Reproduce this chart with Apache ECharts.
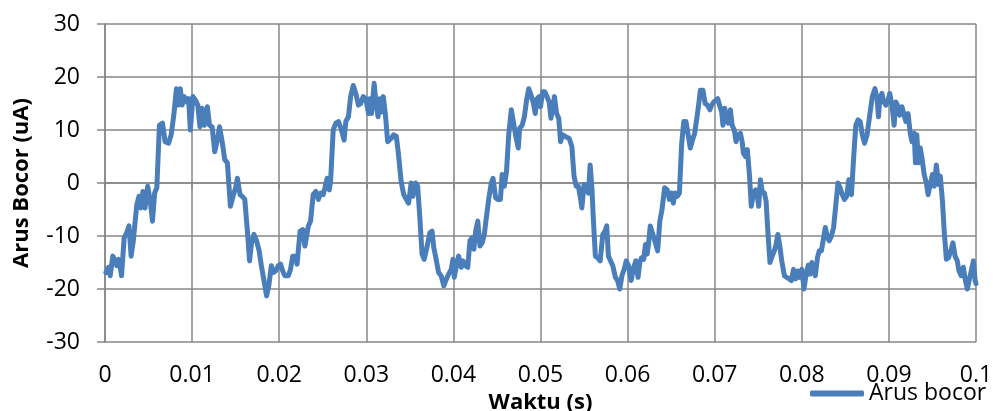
<!DOCTYPE html>
<html>
<head>
<meta charset="utf-8">
<title>Arus Bocor</title>
<script src="https://cdn.jsdelivr.net/npm/echarts@6/dist/echarts.min.js"></script>
<style>
  html, body { margin: 0; padding: 0; background: #ffffff; }
  #chart { width: 993px; height: 411px; }
</style>
</head>
<body>
<div id="chart"></div>
<script>
// Leakage current samples: time in milliseconds, current in microamperes
const timeMs = [
  0.1, 0.4, 0.6, 0.9, 1.15, 1.35, 1.55, 1.75, 1.9, 2.2, 2.5, 2.75, 3.0, 3.25, 3.65, 3.9, 4.1, 4.35, 4.6, 4.9,
  5.2, 5.45, 5.7, 5.95, 6.25, 6.6, 6.9, 7.3, 7.6, 7.9, 8.2, 8.45, 8.65, 8.85, 9.1, 9.4, 9.6, 9.8, 10.1, 10.4,
  10.65, 10.9, 11.15, 11.4, 11.75, 12.0, 12.3, 12.6, 12.9, 13.15, 13.45, 13.75, 14.05, 14.4, 14.75, 15.0, 15.2, 15.5, 15.75, 16.05,
  16.35, 16.6, 16.8, 17.1, 17.4, 17.7, 17.95, 18.25, 18.55, 18.8, 19.1, 19.3, 19.6, 19.9, 20.15, 20.4, 20.65, 21.05, 21.3, 21.55,
  21.8, 22.05, 22.4, 22.7, 22.95, 23.15, 23.35, 23.6, 23.9, 24.2, 24.5, 24.75, 25.05, 25.25, 25.5, 25.75, 25.9, 26.2, 26.5, 26.8,
  27.15, 27.45, 27.65, 27.95, 28.2, 28.5, 28.8, 29.1, 29.35, 29.65, 29.95, 30.25, 30.4, 30.6, 30.9, 31.1, 31.35, 31.55, 31.75, 31.95,
  32.2, 32.45, 32.6, 32.85, 33.15, 33.45, 33.7, 34.0, 34.3, 34.6, 34.85, 35.15, 35.35, 35.65, 35.9, 36.15, 36.4, 36.65, 36.95, 37.3,
  37.55, 37.75, 37.95, 38.1, 38.3, 38.6, 38.9, 39.2, 39.45, 39.75, 39.95, 40.1, 40.35, 40.6, 40.9, 41.1, 41.4, 41.65, 41.9, 42.15,
  42.35, 42.55, 42.8, 43.05, 43.3, 43.55, 43.8, 44.05, 44.35, 44.55, 44.85, 45.1, 45.4, 45.6, 45.85, 46.1, 46.35, 46.65, 46.95, 47.25,
  47.45, 47.6, 47.9, 48.15, 48.4, 48.65, 48.85, 49.15, 49.4, 49.6, 49.85, 50.0, 50.25, 50.5, 50.7, 51.0, 51.2, 51.4, 51.6, 51.85,
  52.1, 52.3, 52.55, 52.8, 53.0, 53.3, 53.6, 53.85, 54.1, 54.35, 54.55, 54.75, 55.0, 55.25, 55.5, 55.7, 55.9, 56.1, 56.3, 56.55,
  56.85, 57.15, 57.4, 57.6, 57.8, 58.0, 58.3, 58.6, 58.85, 59.1, 59.35, 59.6, 59.85, 60.1, 60.4, 60.7, 60.95, 61.2, 61.4, 61.6,
  61.85, 62.05, 62.25, 62.4, 62.6, 62.9, 63.2, 63.45, 63.7, 63.95, 64.25, 64.55, 64.8, 65.05, 65.25, 65.45, 65.7, 65.95, 66.2, 66.45,
  66.7, 66.95, 67.2, 67.45, 67.7, 68.0, 68.2, 68.35, 68.65, 68.9, 69.15, 69.45, 69.65, 69.9, 70.1, 70.35, 70.55, 70.8, 70.95, 71.15,
  71.35, 71.55, 71.8, 72.0, 72.25, 72.45, 72.7, 72.95, 73.15, 73.3, 73.55, 73.75, 74.0, 74.2, 74.45, 74.7, 74.85, 75.05, 75.25, 75.45,
  75.7, 75.9, 76.1, 76.35, 76.6, 76.85, 77.05, 77.25, 77.5, 77.7, 78.0, 78.25, 78.55, 78.8, 79.05, 79.3, 79.55, 79.75, 80.0, 80.25,
  80.5, 80.75, 80.95, 81.15, 81.4, 81.55, 81.8, 82.0, 82.25, 82.45, 82.7, 82.95, 83.15, 83.4, 83.65, 83.95, 84.15, 84.4, 84.65, 84.9,
  85.15, 85.4, 85.7, 85.95, 86.2, 86.45, 86.7, 86.95, 87.2, 87.5, 87.8, 88.1, 88.4, 88.65, 88.8, 88.95, 89.2, 89.4, 89.65, 89.9,
  90.1, 90.35, 90.6, 90.8, 91.05, 91.25, 91.5, 91.75, 91.95, 92.2, 92.45, 92.65, 92.9, 93.05, 93.2, 93.4, 93.6, 93.8, 94.05, 94.3,
  94.5, 94.75, 95.0, 95.2, 95.45, 95.7, 95.9, 96.15, 96.35, 96.6, 96.85, 97.15, 97.35, 97.6, 97.85, 98.05, 98.3, 98.55, 98.75, 99.0,
  99.25, 99.45, 99.7, 99.9, 100.0
];

const arusBocor = [
  -16.9, -15.9, -17.5, -13.8, -14.7, -15.6, -14.4, -15.9, -17.5, -10.3, -9.4, -8.1, -13.8, -10.9, -4.1, -2.5, -4.7, -1.6, -4.7, -0.6,
  -3.4, -7.2, -1.9, -0.9, 10.9, 11.3, 7.8, 7.5, 9.1, 12.8, 17.8, 14.7, 17.8, 14.7, 16.3, 15.3, 15.9, 10.0, 16.3, 15.6,
  14.7, 10.6, 14.1, 10.9, 14.4, 10.9, 10.6, 5.9, 8.1, 10.6, 7.8, 4.4, 3.8, -4.4, -2.2, -0.9, 0.9, -2.2, -2.5, -3.1,
  -9.1, -14.7, -11.6, -9.7, -10.9, -12.8, -15.6, -18.4, -21.3, -19.4, -15.6, -16.9, -16.6, -15.6, -15.3, -16.6, -17.5, -17.5, -16.3, -13.8,
  -13.8, -15.3, -9.1, -8.8, -11.9, -12.2, -8.1, -7.2, -2.2, -1.6, -3.1, -1.9, -2.2, -0.9, 0.9, -1.3, 0.3, 10.0, 11.3, 11.6,
  10.0, 8.1, 11.6, 12.5, 16.3, 18.4, 16.9, 14.7, 15.0, 16.3, 15.9, 13.1, 15.9, 13.1, 18.8, 15.3, 12.5, 15.9, 13.4, 16.3,
  12.8, 7.8, 7.5, 8.4, 9.1, 8.8, 5.3, 0.3, -2.2, -3.1, -3.8, 0.0, -2.5, 0.0, -0.6, -6.6, -13.4, -14.4, -12.2, -9.4,
  -9.1, -12.2, -13.8, -14.1, -16.9, -17.5, -19.4, -18.1, -17.2, -16.3, -14.4, -17.8, -15.6, -13.8, -15.9, -14.7, -15.6, -15.9, -10.9, -10.3,
  -12.5, -9.1, -7.2, -11.9, -11.3, -9.7, -6.3, -3.1, 0.0, 0.9, -2.8, -3.1, -3.1, 1.6, -0.6, 2.2, 9.1, 13.8, 10.9, 8.1,
  6.6, 10.3, 10.9, 12.5, 15.6, 17.8, 16.9, 15.3, 13.1, 15.9, 16.3, 14.4, 17.2, 17.2, 16.9, 15.3, 12.2, 14.1, 16.3, 13.1,
  12.2, 7.8, 9.1, 8.8, 9.1, 8.4, 6.9, 1.3, -0.6, -0.6, -2.5, -4.7, -0.3, -0.9, -1.9, 3.4, -0.9, -7.8, -13.8, -14.1,
  -14.7, -9.7, -9.1, -8.1, -13.8, -14.1, -15.6, -17.8, -18.4, -20.0, -17.5, -16.3, -14.7, -15.6, -18.4, -15.9, -14.7, -17.8, -15.0, -14.1,
  -14.4, -11.6, -13.4, -11.6, -8.1, -9.7, -11.3, -12.8, -7.2, -5.0, -0.9, -1.3, -3.1, -1.9, -3.8, -1.9, -2.5, -1.9, 7.2, 11.6,
  11.6, 9.1, 6.6, 8.1, 9.4, 12.8, 15.3, 17.5, 17.5, 15.0, 14.7, 13.8, 14.7, 15.3, 15.6, 15.9, 14.7, 13.4, 10.9, 14.1,
  12.2, 11.3, 13.8, 10.9, 10.0, 7.8, 9.1, 9.4, 7.8, 5.6, 5.0, 6.3, 1.3, -4.4, -1.9, -1.3, -1.9, -4.4, 0.6, -1.6,
  -1.9, -3.4, -9.1, -15.0, -13.8, -12.8, -11.6, -9.7, -12.2, -14.7, -17.5, -17.8, -18.1, -18.4, -16.3, -18.1, -16.6, -17.8, -16.3, -20.0,
  -17.2, -15.5, -17.2, -15.0, -16.6, -17.5, -14.1, -12.8, -12.8, -10.9, -8.4, -10.3, -10.9, -10.0, -8.4, -3.4, 0.0, -0.9, -2.2, -3.1,
  -2.5, 0.6, -2.2, 4.7, 10.9, 11.9, 11.6, 9.1, 7.5, 9.1, 12.8, 16.3, 17.8, 15.9, 12.5, 15.9, 16.9, 15.3, 14.7, 15.6,
  16.9, 14.7, 10.9, 15.3, 14.4, 12.8, 14.4, 12.8, 11.6, 13.1, 9.4, 7.8, 9.4, 3.8, 9.1, 3.8, 6.6, 4.7, 1.6, 0.0,
  -2.2, -0.3, 1.6, -0.6, 3.4, -0.3, 1.3, -3.4, -9.1, -14.4, -14.1, -12.5, -11.3, -13.8, -14.7, -16.6, -17.5, -15.9, -18.1, -20.0,
  -18.1, -18.4, -14.7, -18.4, -19.0
];

// Axis tick labels (x axis shown in seconds, data kept in ms)
const xTickLabels = ['0', '0.01', '0.02', '0.03', '0.04', '0.05', '0.06', '0.07', '0.08', '0.09', '0.1'];
const yTickLabels = ['-30', '-20', '-10', '0', '10', '20', '30'];

const seriesName = 'Arus bocor';
const xTitle = 'Waktu (s)';
const yTitle = 'Arus Bocor (uA)';

const points = timeMs.map((t, i) => [t, arusBocor[i]]);

const gridColor = '#878787';
const lineBlue = '#4a7ebb';
const fontFamily = '"Open Sans", "Noto Sans", sans-serif';

const chart = echarts.init(document.getElementById('chart'), null, { renderer: 'canvas' });

chart.setOption({
  animation: false,
  backgroundColor: '#ffffff',
  textStyle: { fontFamily: fontFamily, color: '#000000' },
  grid: { left: 105, right: 17, top: 24, bottom: 69, containLabel: false, outerBoundsMode: 'none' },
  xAxis: {
    type: 'value',
    min: 0,
    max: 100,
    interval: 10,
    name: xTitle,
    nameLocation: 'middle',
    nameGap: 46,
    nameTextStyle: { fontSize: 22, fontWeight: 'bold', color: '#000000', fontFamily: fontFamily },
    axisLine: { show: true, lineStyle: { color: gridColor, width: 1.5 } },
    axisTick: { show: true, length: 6, lineStyle: { color: gridColor, width: 1.5 } },
    axisLabel: {
      fontSize: 23,
      color: '#000000',
      margin: 22,
      fontFamily: fontFamily,
      formatter: (v) => xTickLabels[Math.round(v / 10)]
    },
    splitLine: { show: true, lineStyle: { color: gridColor, width: 1.5 } }
  },
  yAxis: {
    type: 'value',
    min: -30,
    max: 30,
    interval: 10,
    name: yTitle,
    nameLocation: 'middle',
    nameGap: 72,
    nameRotate: 90,
    nameTextStyle: { fontSize: 22, fontWeight: 'bold', color: '#000000', fontFamily: fontFamily },
    axisLine: { show: true, lineStyle: { color: gridColor, width: 1.5 } },
    axisTick: { show: true, length: 8, lineStyle: { color: gridColor, width: 1.5 } },
    axisLabel: {
      fontSize: 23,
      color: '#000000',
      margin: 25,
      fontFamily: fontFamily,
      formatter: (v) => yTickLabels[Math.round((v + 30) / 10)]
    },
    splitLine: { show: true, lineStyle: { color: gridColor, width: 1.5 } }
  },
  legend: {
    show: true,
    left: 810,
    top: 382,
    padding: 0,
    icon: 'roundRect',
    itemWidth: 54,
    itemHeight: 6,
    itemGap: 0,
    itemStyle: { color: lineBlue, borderWidth: 0 },
    textStyle: { fontSize: 23, color: '#000000', fontFamily: fontFamily },
    data: [seriesName]
  },
  series: [{
    name: seriesName,
    type: 'line',
    data: points,
    symbol: 'none',
    showSymbol: false,
    smooth: false,
    lineStyle: { color: lineBlue, width: 5, join: 'round', cap: 'round' },
    itemStyle: { color: lineBlue }
  }]
});
</script>
</body>
</html>
